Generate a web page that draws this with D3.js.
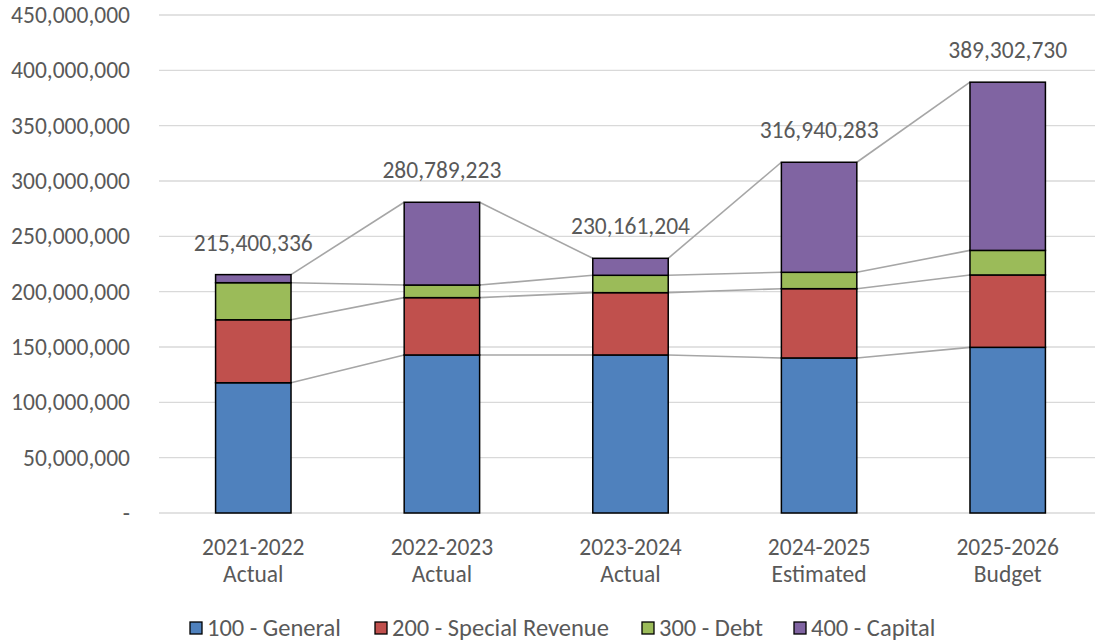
<!DOCTYPE html>
<html>
<head>
<meta charset="utf-8">
<script src="https://cdn.jsdelivr.net/npm/d3@7"></script>
<style>
  body { margin: 0; background: #fff; }
  text { font-family: Carlito, Calibri, Roboto, sans-serif; fill: #595959; }
</style>
</head>
<body>
<div id="chart"></div>
<script>
// categories (two-line labels)
const years = ["2021-2022", "2022-2023", "2023-2024", "2024-2025", "2025-2026"];
const kinds = ["Actual", "Actual", "Actual", "Estimated", "Budget"];

// fund series (dollars)
const general = [117.7e6, 142.8e6, 142.8e6, 140.1e6, 149.7e6];
const specialRevenue = [56.9e6, 51.8e6, 56.3e6, 62.6e6, 65.4e6];
const debt = [33.5e6, 11.4e6, 15.7e6, 14.8e6, 22.2e6];
const capital = [7.3e6, 74.79e6, 15.36e6, 99.44e6, 152.0e6];
const totals = [215400336, 280789223, 230161204, 316940283, 389302730];

const seriesNames = ["100 - General", "200 - Special Revenue", "300 - Debt", "400 - Capital"];
const seriesColors = ["#4f81bd", "#c0504d", "#9bbb59", "#8064a2"];
const yTicks = [0, 50e6, 100e6, 150e6, 200e6, 250e6, 300e6, 350e6, 400e6, 450e6];

const width = 1095, height = 643;
const margin = { top: 15, right: -7, bottom: 130, left: 159 };

const svg = d3.select("#chart").append("svg").attr("width", width).attr("height", height);

// build rows for the stack
const rows = years.map((y, i) => ({
  key: y, s0: general[i], s1: specialRevenue[i], s2: debt[i], s3: capital[i]
}));
const stacked = d3.stack().keys(["s0", "s1", "s2", "s3"])(rows);

const x = d3.scaleBand().domain(years)
  .range([margin.left, width - margin.right])
  .paddingInner(0.6).paddingOuter(0.3);
const y = d3.scaleLinear().domain([0, 450e6]).range([height - margin.bottom, margin.top]);

// gridlines
svg.append("g").selectAll("line").data(yTicks).join("line")
  .attr("x1", margin.left).attr("x2", width)
  .attr("y1", d => y(d)).attr("y2", d => y(d))
  .attr("stroke", "#d9d9d9").attr("stroke-width", 1.3);

// y axis labels
svg.append("g").selectAll("text").data(yTicks).join("text")
  .attr("x", 130).attr("y", d => y(d) + 8)
  .attr("text-anchor", "end").style("font-size", "23.5px")
  .text(d => d === 0 ? "-" : d3.format(",")(d));

// series lines between bars
const bw = x.bandwidth();
stacked.forEach(layer => {
  for (let i = 0; i < years.length - 1; i++) {
    svg.append("line")
      .attr("x1", x(years[i]) + bw).attr("y1", y(layer[i][1]))
      .attr("x2", x(years[i + 1])).attr("y2", y(layer[i + 1][1]))
      .attr("stroke", "#a6a6a6").attr("stroke-width", 1.6);
  }
});

// bars
svg.append("g").selectAll("g").data(stacked).join("g")
  .attr("fill", (d, i) => seriesColors[i])
  .selectAll("rect").data(d => d).join("rect")
  .attr("x", d => x(d.data.key))
  .attr("y", d => y(d[1]))
  .attr("width", bw)
  .attr("height", d => y(d[0]) - y(d[1]))
  .attr("stroke", "#000").attr("stroke-width", 1.5);

// total labels
svg.append("g").selectAll("text").data(totals).join("text")
  .attr("x", (d, i) => x(years[i]) + bw / 2)
  .attr("y", (d, i) => y(stacked[3][i][1]) - 24)
  .attr("text-anchor", "middle").style("font-size", "23.5px")
  .text(d => d3.format(",")(d));

// x labels
const xl = svg.append("g").selectAll("text").data(years).join("text")
  .attr("x", d => x(d) + bw / 2)
  .attr("text-anchor", "middle").style("font-size", "23.5px");
xl.append("tspan").attr("x", d => x(d) + bw / 2).attr("y", 555).text(d => d);
xl.append("tspan").attr("x", d => x(d) + bw / 2).attr("y", 582).text((d, i) => kinds[i]);

// legend
const legendX = [190, 375, 642, 794];
const lg = svg.append("g").selectAll("g").data(seriesNames).join("g")
  .attr("transform", (d, i) => `translate(${legendX[i]},628)`);
lg.append("rect").attr("x", 0).attr("y", -6).attr("width", 12).attr("height", 12)
  .attr("fill", (d, i) => seriesColors[i]).attr("stroke", "#000").attr("stroke-width", 1.3);
lg.append("text").attr("x", 17).attr("y", 8).style("font-size", "24.5px").text(d => d);
</script>
</body>
</html>
